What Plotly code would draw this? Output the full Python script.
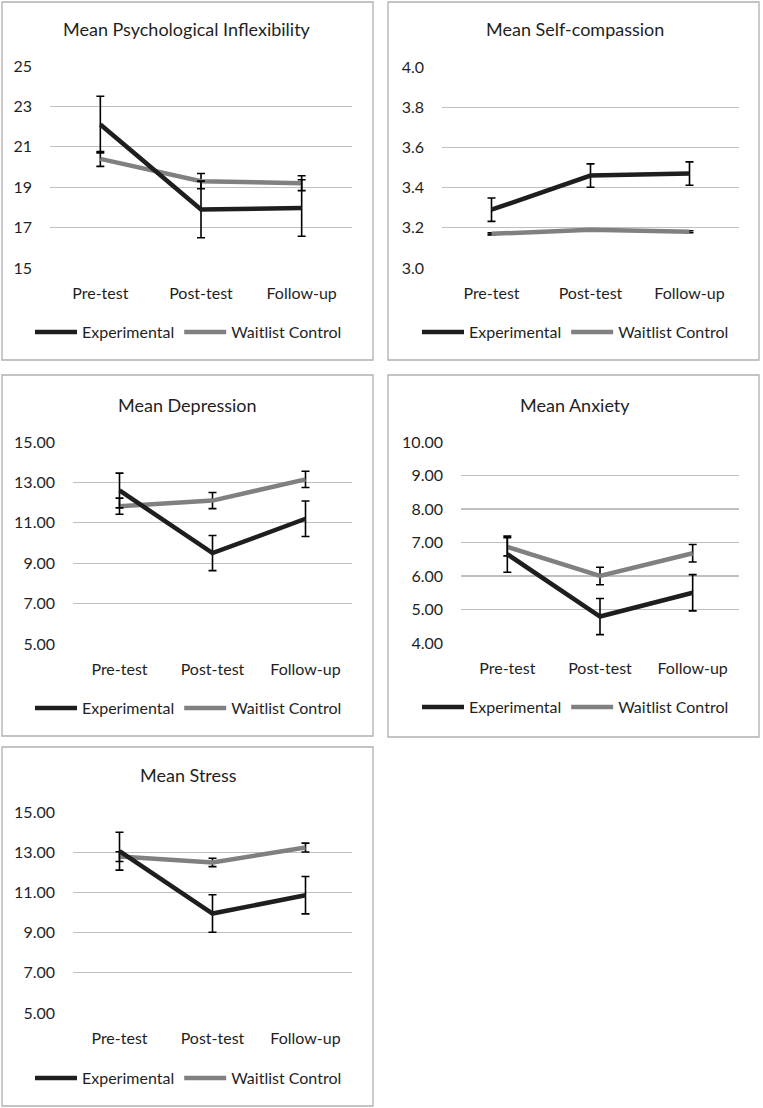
import plotly.graph_objects as go

W, H = 763, 1108

categories = ["Pre-test", "Post-test", "Follow-up"]
series_names = ["Experimental", "Waitlist Control"]

titles = ["Mean Psychological Inflexibility", "Mean Self-compassion",
          "Mean Depression", "Mean Anxiety", "Mean Stress"]

# Psychological inflexibility
pi_exp = [22.1, 17.9, 17.97]
pi_exp_err = [1.4, 1.4, 1.4]
pi_ctl = [20.4, 19.3, 19.2]
pi_ctl_err = [0.37, 0.38, 0.37]

# Self-compassion
sc_exp = [3.29, 3.46, 3.47]
sc_exp_err = [0.058, 0.058, 0.058]
sc_ctl = [3.17, 3.19, 3.18]
sc_ctl_err = [0.005, 0.005, 0.005]

# Depression
dep_exp = [12.6, 9.5, 11.2]
dep_exp_err = [0.86, 0.87, 0.88]
dep_ctl = [11.82, 12.1, 13.15]
dep_ctl_err = [0.4, 0.4, 0.4]

# Anxiety
anx_exp = [6.65, 4.79, 5.5]
anx_exp_err = [0.54, 0.54, 0.54]
anx_ctl = [6.87, 6.0, 6.68]
anx_ctl_err = [0.27, 0.26, 0.26]

# Stress
str_exp = [13.05, 9.95, 10.86]
str_exp_err = [0.94, 0.93, 0.93]
str_ctl = [12.78, 12.49, 13.23]
str_ctl_err = [0.24, 0.21, 0.22]

y_ranges = [(15, 25), (3.0, 4.0), (5, 15), (4, 10), (5, 15)]
y_dtick = [2, 0.2, 2, 1, 2]
y_fmt = ["d", ".1f", ".2f", ".2f", ".2f"]

data = [
    (pi_exp, pi_exp_err, pi_ctl, pi_ctl_err),
    (sc_exp, sc_exp_err, sc_ctl, sc_ctl_err),
    (dep_exp, dep_exp_err, dep_ctl, dep_ctl_err),
    (anx_exp, anx_exp_err, anx_ctl, anx_ctl_err),
    (str_exp, str_exp_err, str_ctl, str_ctl_err),
]

# layout geometry (pixels): plot area x0,x1,y0,y1 ; box x0,x1,y0,y1 ; title pos ; legend pos
plot_px = [
    (50, 352, 66, 268),
    (442, 739, 67, 268),
    (73, 352, 442, 644),
    (461, 739, 442, 643),
    (73, 352, 812, 1013),
]
box_px = [
    (2, 373, 2, 360),
    (388, 759, 2, 360),
    (2, 373, 375, 736),
    (388, 759, 375, 737),
    (2, 373, 747, 1106),
]
title_px = [(187, 29), (575, 29), (187, 405), (575, 405), (188, 775)]
legend_px = [(30, 332), (417, 332), (30, 708), (417, 707), (30, 1078)]

BLACK = "#1e1e1e"
GREY = "#808080"
FONT = "Lato"
TXT = "#1f1f1f"

fig = go.Figure()
layout = dict(
    width=W, height=H, margin=dict(l=0, r=0, t=0, b=0, autoexpand=False),
    paper_bgcolor="white", plot_bgcolor="white",
    font=dict(family=FONT, color=TXT, size=15),
    showlegend=True,
)
shapes = []
annotations = []
x_idx = list(range(len(categories)))

for i in range(5):
    n = "" if i == 0 else str(i + 1)
    xa, ya = "x" + n, "y" + n
    lg = "legend" + n
    ex, exe, ct, cte = data[i]
    # control first so experimental draws on top
    fig.add_trace(go.Scatter(
        x=x_idx, y=ct, mode="lines", name=series_names[1],
        line=dict(color=GREY, width=4.5),
        error_y=dict(type="data", array=cte, color="#000000", thickness=1.6, width=4),
        xaxis=xa, yaxis=ya, legend=lg, legendrank=2, hoverinfo="skip"))
    fig.add_trace(go.Scatter(
        x=x_idx, y=ex, mode="lines", name=series_names[0],
        line=dict(color=BLACK, width=4.5),
        error_y=dict(type="data", array=exe, color="#000000", thickness=1.6, width=4),
        xaxis=xa, yaxis=ya, legend=lg, legendrank=1, hoverinfo="skip"))

    px0, px1, py0, py1 = plot_px[i]
    layout["xaxis" + n] = dict(
        domain=[px0 / W, px1 / W], anchor=ya, range=[-0.5, 2.5],
        tickvals=x_idx, ticktext=categories, showgrid=False, zeroline=False,
        showline=False, ticks="", ticklabelstandoff=14, automargin=False,
        tickfont=dict(family=FONT, size=16, color=TXT), fixedrange=True)
    r0, r1 = y_ranges[i]
    layout["yaxis" + n] = dict(
        domain=[1 - py1 / H, 1 - py0 / H], anchor=xa, range=[r0, r1],
        dtick=y_dtick[i], tick0=r0, tickformat=y_fmt[i],
        showgrid=True, gridcolor="#bfbfbf", gridwidth=1.3, zeroline=False,
        showline=False, ticks="", ticklabelstandoff=17, automargin=False,
        tickfont=dict(family=FONT, size=16, color=TXT), fixedrange=True)

    lx, ly = legend_px[i]
    layout[lg] = dict(
        x=lx / W, y=1 - ly / H, xanchor="left", yanchor="middle",
        orientation="h", itemwidth=42, bgcolor="rgba(0,0,0,0)",
        font=dict(family=FONT, size=16, color=TXT), traceorder="normal",
        itemclick=False, itemdoubleclick=False)

    bx0, bx1, by0, by1 = box_px[i]
    shapes.append(dict(type="rect", xref="paper", yref="paper",
                       x0=bx0 / W, x1=bx1 / W, y0=1 - by1 / H, y1=1 - by0 / H,
                       line=dict(color="#b0b0b0", width=1.3), fillcolor="rgba(0,0,0,0)"))
    tx, ty = title_px[i]
    annotations.append(dict(text=titles[i], xref="paper", yref="paper",
                            x=tx / W, y=1 - ty / H, xanchor="center", yanchor="middle",
                            showarrow=False, font=dict(family=FONT, size=18, color=TXT)))

layout["shapes"] = shapes
layout["annotations"] = annotations
fig.update_layout(**layout)
fig.write_html("out.html", config={"displayModeBar": False, "staticPlot": True},
               post_script="document.body.style.margin='0';document.body.style.overflow='hidden';")
